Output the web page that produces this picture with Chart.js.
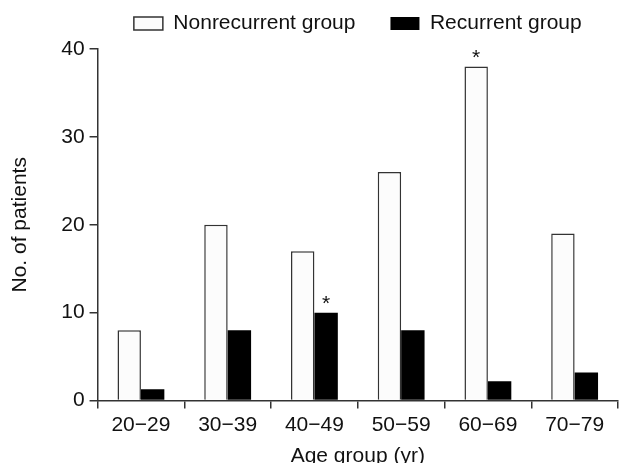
<!DOCTYPE html>
<html>
<head>
<meta charset="utf-8">
<script src="https://cdn.jsdelivr.net/npm/chart.js@4"></script>
<style>
  html, body { margin: 0; padding: 0; background: #fff; }
  #wrap { width: 622px; height: 463px; }
</style>
</head>
<body>
<div id="wrap"><canvas id="chart" width="622" height="463"></canvas></div>
<script>
// ========= DATA ========= //
const ageGroups = ["20\u221229", "30\u221239", "40\u221249", "50\u221259", "60\u221269", "70\u221279"];
const nonrecurrent = [8, 20, 17, 26, 38, 19];
const recurrent = [1.3, 8, 10, 8, 2.2, 3.2];
const yTicks = [0, 10, 20, 30, 40];
// significant differences (dataset index, category index)
const starMarks = [[1, 2], [0, 4]];

const FONT = "'Liberation Sans', Arial, sans-serif";

// ========= ASTERISKS ========= //
const starPlugin = {
    id: "stars",
    afterDatasetsDraw(chart) {
        const ctx = chart.ctx;
        ctx.save();
        ctx.fillStyle = "#111";
        ctx.font = "21px " + FONT;
        ctx.textAlign = "center";
        ctx.textBaseline = "alphabetic";
        starMarks.forEach(([ds, i]) => {
            const bar = chart.getDatasetMeta(ds).data[i];
            ctx.fillText("*", bar.x, bar.y - 3);
        });
        ctx.restore();
    }
};

// ========= CHART ========= //
new Chart(document.getElementById("chart"), {
    type: "bar",
    data: {
        labels: ageGroups,
        datasets: [
            { label: "Nonrecurrent group", data: nonrecurrent, backgroundColor: "#fcfcfc", borderColor: "#333", borderWidth: 1.5 },
            { label: "Recurrent group", data: recurrent, backgroundColor: "#000", borderColor: "#000", borderWidth: 0 }
        ]
    },
    options: {
        responsive: false,
        animation: false,
        layout: { padding: { left: 0, right: 4, top: -22, bottom: -4 } },
        datasets: { bar: { categoryPercentage: 0.54, barPercentage: 1.0 } },
        plugins: {
            legend: {
                fullSize: false,
                labels: {
                    color: "#111",
                    font: { family: FONT, size: 21 },
                    boxWidth: 29,
                    boxHeight: 13,
                    padding: 35
                }
            },
            // empty spacer between legend and plot
            subtitle: { display: true, text: "", weight: 500, font: { size: 1, lineHeight: 1 }, padding: { top: 0, bottom: 4 } },
            tooltip: { enabled: false }
        },
        scales: {
            x: {
                grid: { display: true, drawOnChartArea: false, offset: true, tickLength: 8, color: "#333", lineWidth: 1.5 },
                border: { color: "#333", width: 1.5 },
                ticks: { color: "#111", font: { family: FONT, size: 21 }, padding: 4 },
                title: { display: true, text: "Age group (yr)", color: "#111", font: { family: FONT, size: 21 }, padding: { top: 2, bottom: -2 } }
            },
            y: {
                min: 0, max: 40,
                afterBuildTicks: axis => { axis.ticks = yTicks.map(v => ({ value: v })); },
                grid: { display: true, drawOnChartArea: false, tickLength: 8, color: "#333", lineWidth: 1.5 },
                border: { color: "#333", width: 1.5 },
                ticks: { color: "#111", font: { family: FONT, size: 21 }, padding: 5 },
                title: { display: true, text: "No. of patients", color: "#111", font: { family: FONT, size: 21 }, padding: { top: 8, bottom: 23 } }
            }
        }
    },
    plugins: [starPlugin]
});
</script>
</body>
</html>
